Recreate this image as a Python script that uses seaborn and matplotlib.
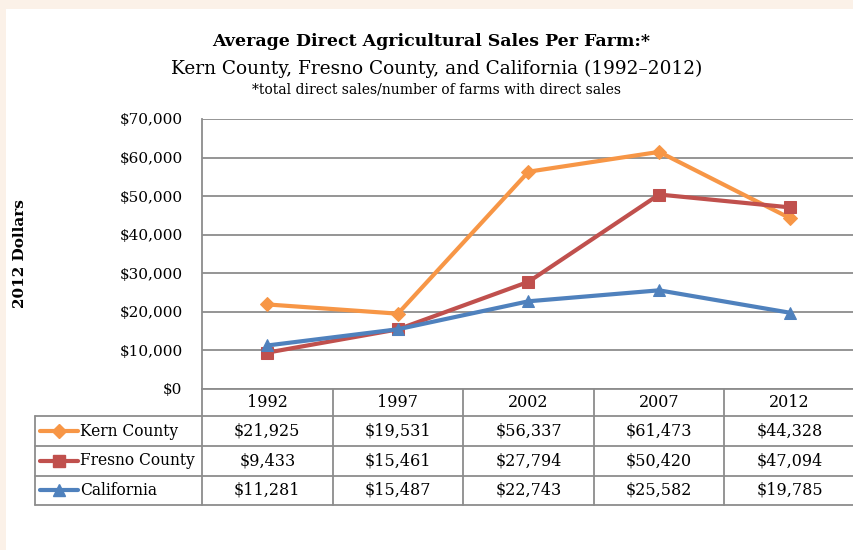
import numpy as np
import pandas as pd
import matplotlib
matplotlib.use('Agg')
import matplotlib.pyplot as plt
import matplotlib.transforms as mtransforms
from matplotlib.patches import Rectangle
from matplotlib.lines import Line2D
import seaborn as sns

# data
years = ['1992', '1997', '2002', '2007', '2012']
kern = [21925, 19531, 56337, 61473, 44328]
fresno = [9433, 15461, 27794, 50420, 47094]
california = [11281, 15487, 22743, 25582, 19785]
series_names = ['Kern County', 'Fresno County', 'California']
colors = ['#F79646', '#C0504D', '#4F81BD']
markers = ['D', 's', '^']
y_ticks = list(range(0, 70001, 10000))

df = pd.DataFrame({
    'Year': years * 3,
    'Sales': kern + fresno + california,
    'Series': np.repeat(series_names, len(years)),
})
df['x'] = df['Year'].map({y: i for i, y in enumerate(years)})

sns.set_theme(style='white')
plt.rcParams['font.family'] = ['DejaVu Serif']
plt.rcParams['text.color'] = 'black'
plt.rcParams['ytick.color'] = 'black'
plt.rcParams['ytick.labelcolor'] = 'black'

W, H = 854, 550
fig = plt.figure(figsize=(W / 100, H / 100), dpi=100)
fig.patch.set_facecolor('#FBF1E8')
fig.patches.append(Rectangle((6 / W, 0), 1, 1 - 9 / H, transform=fig.transFigure,
                             facecolor='white', edgecolor='none', zorder=-5))

def fy(y):
    return 1 - y / H

ax = fig.add_axes([202 / W, fy(389), (855 - 202) / W, (389 - 119) / H])
ax.set_zorder(2)
ax.set_facecolor('white')

grid_c = '#8C8C8C'
for name, c, m in zip(series_names, colors, markers):
    sub = df[df['Series'] == name]
    sns.lineplot(data=sub, x='x', y='Sales', ax=ax, color=c, marker=m, lw=3,
                 markersize=9 if m != 'D' else 7.5, markeredgecolor=c,
                 label=name, legend=False, clip_on=False)

ax.set_xlim(-0.5, 4.5)
ax.set_ylim(0, 70000)
ax.set_yticks(y_ticks)
ax.set_yticklabels([f'${v:,.0f}' for v in y_ticks], fontsize=11)
ax.set_xticks([])
ax.set_xlabel('')
ax.set_ylabel('')
ax.tick_params(axis='y', length=0, pad=14)
ax.yaxis.grid(True, color=grid_c, lw=1.3)
ax.set_axisbelow(True)
for s in ['top', 'right']:
    ax.spines[s].set_visible(False)
for s in ['left', 'bottom']:
    ax.spines[s].set_color(grid_c)
    ax.spines[s].set_linewidth(1.3)

# data table under the plot
tr = mtransforms.blended_transform_factory(ax.transData, fig.transFigure)
row_edges = [389, 416, 446, 475.5, 505]
for yb in row_edges[1:]:
    fig.add_artist(Line2D([35 / W, 1], [fy(yb)] * 2, color=grid_c, lw=1.3))
for i in range(len(years) + 1):
    fig.add_artist(Line2D([i - 0.5] * 2, [fy(389), fy(505)], transform=tr,
                          color=grid_c, lw=1.3))
fig.add_artist(Line2D([35 / W] * 2, [fy(416), fy(505)], color=grid_c, lw=1.3))

for i, yr in enumerate(years):
    fig.text(i, fy((row_edges[0] + row_edges[1]) / 2), yr, transform=tr,
             ha='center', va='center', fontsize=11.5)

for r, (name, vals, c, m) in enumerate(zip(series_names, [kern, fresno, california], colors, markers)):
    yc = fy((row_edges[r + 1] + row_edges[r + 2]) / 2)
    fig.add_artist(Line2D([40 / W, 78 / W], [yc, yc], color=c, lw=3))
    fig.add_artist(Line2D([59 / W], [yc], color=c, marker=m,
                          markersize=9 if m != 'D' else 7.5, markeredgecolor=c))
    fig.text(80 / W, yc, name, ha='left', va='center', fontsize=11.2)
    for i, v in enumerate(vals):
        fig.text(i, yc, f'${v:,.0f}', transform=tr, ha='center', va='center', fontsize=11.5)

fig.text(431 / W, fy(42), 'Average Direct Agricultural Sales Per Farm:*',
         ha='center', va='center', fontsize=12.5, fontweight='bold')
fig.text(437 / W, fy(69), 'Kern County, Fresno County, and California (1992\u20132012)',
         ha='center', va='center', fontsize=13.3)
fig.text(437 / W, fy(90), '*total direct sales/number of farms with direct sales',
         ha='center', va='center', fontsize=10)
fig.text(20 / W, fy(254), '2012 Dollars', rotation=90, ha='center', va='center',
         fontsize=11, fontweight='bold')

fig.savefig('out.png', dpi=100, facecolor=fig.get_facecolor())
